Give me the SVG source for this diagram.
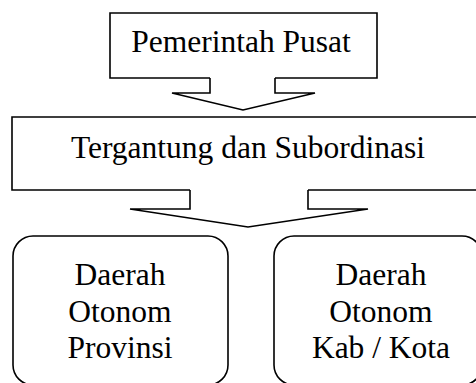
<svg xmlns="http://www.w3.org/2000/svg" width="476" height="383" viewBox="0 0 476 383">
<style>
.s{fill:#fff;stroke:#000;stroke-width:1.6;stroke-linejoin:miter}
text{font-family:'Liberation Serif',serif;font-size:31.5px;fill:#000;text-anchor:middle}
</style>
<rect width="476" height="383" fill="#fff"/>
<g id="pusat">
<path class="s" d="M210,78 H110 V13 H377 V78 H275"/>
<text x="241" y="52" font-size="31">Pemerintah Pusat</text>
</g>
<g id="subordinasi">
<path class="s" d="M190,190 H12 V117 H482 V190 H308"/>
<text x="248" y="158">Tergantung dan Subordinasi</text>
</g>
<g id="provinsi">
<rect class="s" x="13" y="236" width="215" height="149" rx="20" ry="20"/>
<text x="120" y="285">Daerah</text>
<text x="120" y="322">Otonom</text>
<text x="120" y="358">Provinsi</text>
</g>
<g id="kabkota">
<rect class="s" x="274" y="236" width="208" height="149" rx="20" ry="20"/>
<text x="381" y="285">Daerah</text>
<text x="381" y="322">Otonom</text>
<text x="381" y="358">Kab / Kota</text>
</g>
<g id="connectors">
<path class="s" d="M210,78 V93 H172 L243,110 L315,93 H275 V78"/>
<path class="s" d="M190,190 V209 H130 L248,227 L368,209 H308 V190"/>
</g>
</svg>
